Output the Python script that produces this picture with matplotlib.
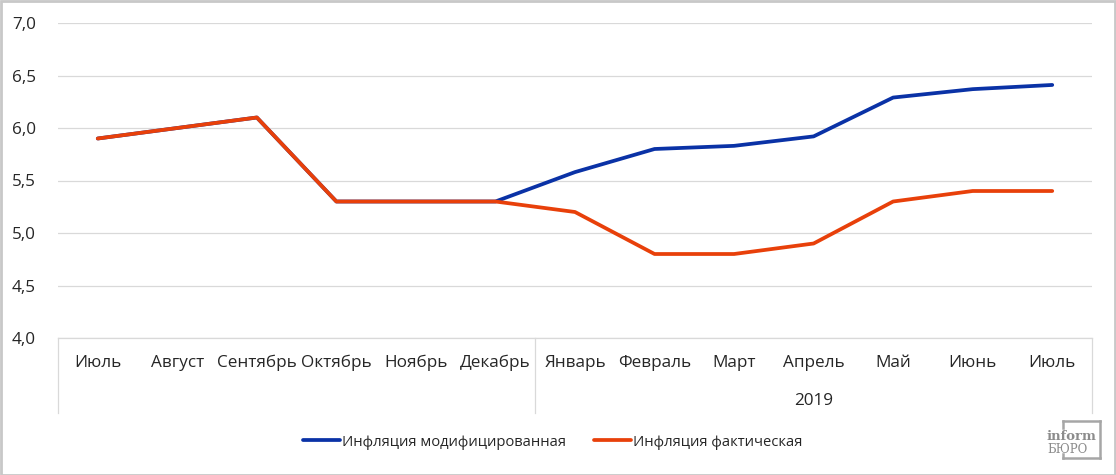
import matplotlib
matplotlib.use("Agg")
import matplotlib.pyplot as plt
from matplotlib.patches import Rectangle
from matplotlib.lines import Line2D
from matplotlib.ticker import FuncFormatter

plt.rcParams["font.family"] = ["Open Sans", "DejaVu Sans"]

months = ["Июль", "Август", "Сентябрь", "Октябрь", "Ноябрь", "Декабрь",
          "Январь", "Февраль", "Март", "Апрель", "Май", "Июнь", "Июль"]
year_label = "2019"
year_start = 6  # index of Январь

modified = [5.9, 6.0, 6.1, 5.3, 5.3, 5.3, 5.58, 5.80, 5.83, 5.92, 6.29, 6.37, 6.41]
actual = [5.9, 6.0, 6.1, 5.3, 5.3, 5.3, 5.2, 4.8, 4.8, 4.9, 5.3, 5.4, 5.4]

BLUE = "#0A32A6"
ORANGE = "#E8400A"
GRID = "#D9D9D9"
TXT = "#262626"
FS = 12.3

W, H = 1116, 475
fig = plt.figure(figsize=(W / 100, H / 100), dpi=100)

# plot area in pixels: x 58..1092, y 23..338 (from top)
ax = fig.add_axes([58 / W, 1 - 338 / H, (1092 - 58) / W, (338 - 23) / H])
x = list(range(len(months)))
ax.plot(x, modified, color=BLUE, lw=2.7, solid_capstyle="round", zorder=3)
ax.plot(x, actual, color=ORANGE, lw=2.7, solid_capstyle="round", zorder=4)

ax.set_xlim(-0.5, len(months) - 0.5)
ax.set_ylim(4.0, 7.0)
ax.set_yticks([4.0, 4.5, 5.0, 5.5, 6.0, 6.5, 7.0])
ax.yaxis.set_major_formatter(FuncFormatter(lambda v, p: f"{v:.1f}".replace(".", ",")))
ax.tick_params(axis="y", length=0, pad=16, labelsize=FS, labelcolor=TXT)
ax.set_xticks(x)
ax.set_xticklabels(months)
ax.tick_params(axis="x", length=0, pad=12, labelsize=FS, labelcolor=TXT)
ax.grid(axis="y", color=GRID, lw=0.9, zorder=0)
ax.set_axisbelow(True)
for s in ["top", "right", "left"]:
    ax.spines[s].set_visible(False)
ax.spines["bottom"].set_color(GRID)
ax.spines["bottom"].set_linewidth(0.9)

# multi-level category dividers and year label
trans = ax.get_xaxis_transform()
for xd in [-0.5, year_start - 0.5, len(months) - 0.5]:
    ax.plot([xd, xd], [0, -75 / 315], color=GRID, lw=0.9, transform=trans, clip_on=False)
ax.text((year_start + len(months) - 1) / 2, -63 / 315, year_label, transform=trans,
        ha="center", va="center", fontsize=FS, color=TXT)

# legend
handles = [Line2D([], [], color=BLUE, lw=2.7, solid_capstyle="round"),
           Line2D([], [], color=ORANGE, lw=2.7, solid_capstyle="round")]
fig.legend(handles, ["Инфляция модифицированная", "Инфляция фактическая"],
           loc="center", bbox_to_anchor=(553 / W, 1 - 442 / H), ncol=2, frameon=False,
           fontsize=10.6, handlelength=2.5, handletextpad=0.15, columnspacing=1.9,
           labelcolor=TXT)

# watermark
wm = "#8C8C8C"
fig.text(1047 / W, 1 - 440 / H, "inform", fontsize=9.5, fontweight="bold", family="DejaVu Serif",
         color=wm, ha="left", va="baseline")
fig.text(1047 / W, 1 - 453 / H, "БЮРО", fontsize=8.5, family="DejaVu Serif",
         color=wm, ha="left", va="baseline")
fx = lambda px: px / W
fy = lambda py: 1 - py / H
for xs, ys in [([1063, 1100], [421, 421]), ([1100, 1100], [421, 458]),
               ([1063, 1100], [458, 458]), ([1063, 1063], [421, 428]),
               ([1063, 1063], [454, 458])]:
    fig.add_artist(Line2D([fx(v) for v in xs], [fy(v) for v in ys], color="#A6A6A6", lw=1.8))

# chart border
fig.add_artist(Rectangle((0.5 / W, 0.5 / H), 1 - 1.5 / W, 1 - 1.5 / H, transform=fig.transFigure,
                         fill=False, edgecolor="#C8C8C8", lw=2))

fig.savefig("out.png", dpi=100)
